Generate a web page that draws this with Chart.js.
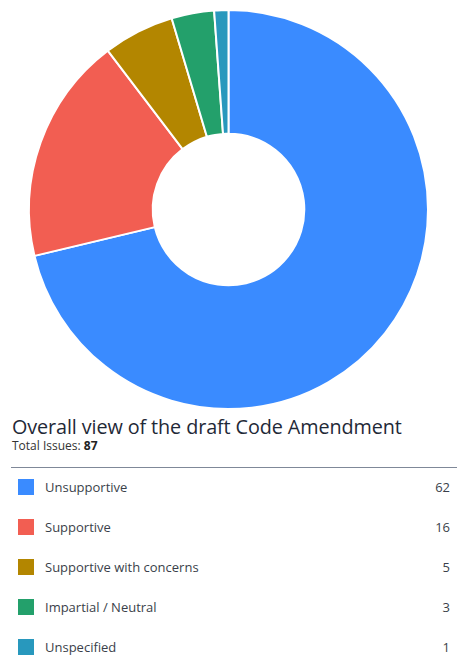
<!DOCTYPE html>
<html>
<head>
<meta charset="utf-8">
<script src="https://cdn.jsdelivr.net/npm/chart.js@4.4.0/dist/chart.umd.min.js"></script>
<style>
  body { margin: 0; background: #fff; font-family: "Open Sans", "Noto Sans", sans-serif; width: 457px; overflow: hidden; }
  #wrap { position: relative; width: 457px; height: 410px; }
  #title { margin: 5px 0 0 12px; font-size: 19.8px; color: #1f2937; line-height: 23px; letter-spacing: -0.1px; }
  #sub { margin: 0 0 0 12px; font-size: 12px; color: #333; line-height: 16px; }
  #sub b { color: #222; }
  #rule { margin: 13px 0 0 11px; border-top: 1.5px solid #7f8898; }
  #legend { list-style: none; margin: 0; padding: 0; }
  #legend li { position: relative; height: 40px; font-size: 13px; color: #3a3f4a; }
  #legend .box { position: absolute; left: 18px; width: 16px; height: 16px; }
  #legend .lbl { position: absolute; left: 45px; }
  #legend .val { position: absolute; right: 7px; }
</style>
</head>
<body>
<div id="wrap"><canvas id="donut"></canvas></div>
<div id="title">Overall view of the draft Code Amendment</div>
<div id="sub">Total Issues: <b id="total"></b></div>
<div id="rule"></div>
<ul id="legend"></ul>
<script>
var labels = ['Unsupportive', 'Supportive', 'Supportive with concerns', 'Impartial / Neutral', 'Unspecified'];
var counts = [62, 16, 5, 3, 1];
var colors = ['#3a8bff', '#f25e52', '#b38600', '#23a06b', '#2898bd'];

// html legend built from the chart's own legend items
var htmlLegend = {
    id: 'htmlLegend',
    afterUpdate: function(chart) {
        var ul = document.getElementById('legend');
        ul.innerHTML = '';
        var items = chart.options.plugins.legend.labels.generateLabels(chart);
        items.forEach(function(item, i) {
            var li = document.createElement('li');
            var top = 11;
            li.innerHTML = '<span class="box" style="top:' + top + 'px;background:' + item.fillStyle + '"></span>' +
                '<span class="lbl" style="top:' + (top - 1) + 'px">' + item.text + '</span>' +
                '<span class="val" style="top:' + (top - 1) + 'px">' + chart.data.datasets[0].data[i] + '</span>';
            ul.appendChild(li);
        });
    }
};

document.getElementById('total').textContent = counts.reduce(function(a, b) { return a + b; }, 0);

var ctx = document.getElementById('donut').getContext('2d');
var chart = new Chart(ctx, {
    type: 'doughnut',
    data: {
        labels: labels,
        datasets: [{
            data: counts,
            backgroundColor: colors,
            borderColor: '#ffffff',
            borderWidth: 2
        }]
    },
    options: {
        responsive: true,
        maintainAspectRatio: false,
        animation: false,
        cutout: '38%',
        layout: { padding: { top: 9, bottom: 0 } },
        plugins: {
            legend: { display: false },
            tooltip: { enabled: false }
        }
    },
    plugins: [htmlLegend]
});
</script>
</body>
</html>
